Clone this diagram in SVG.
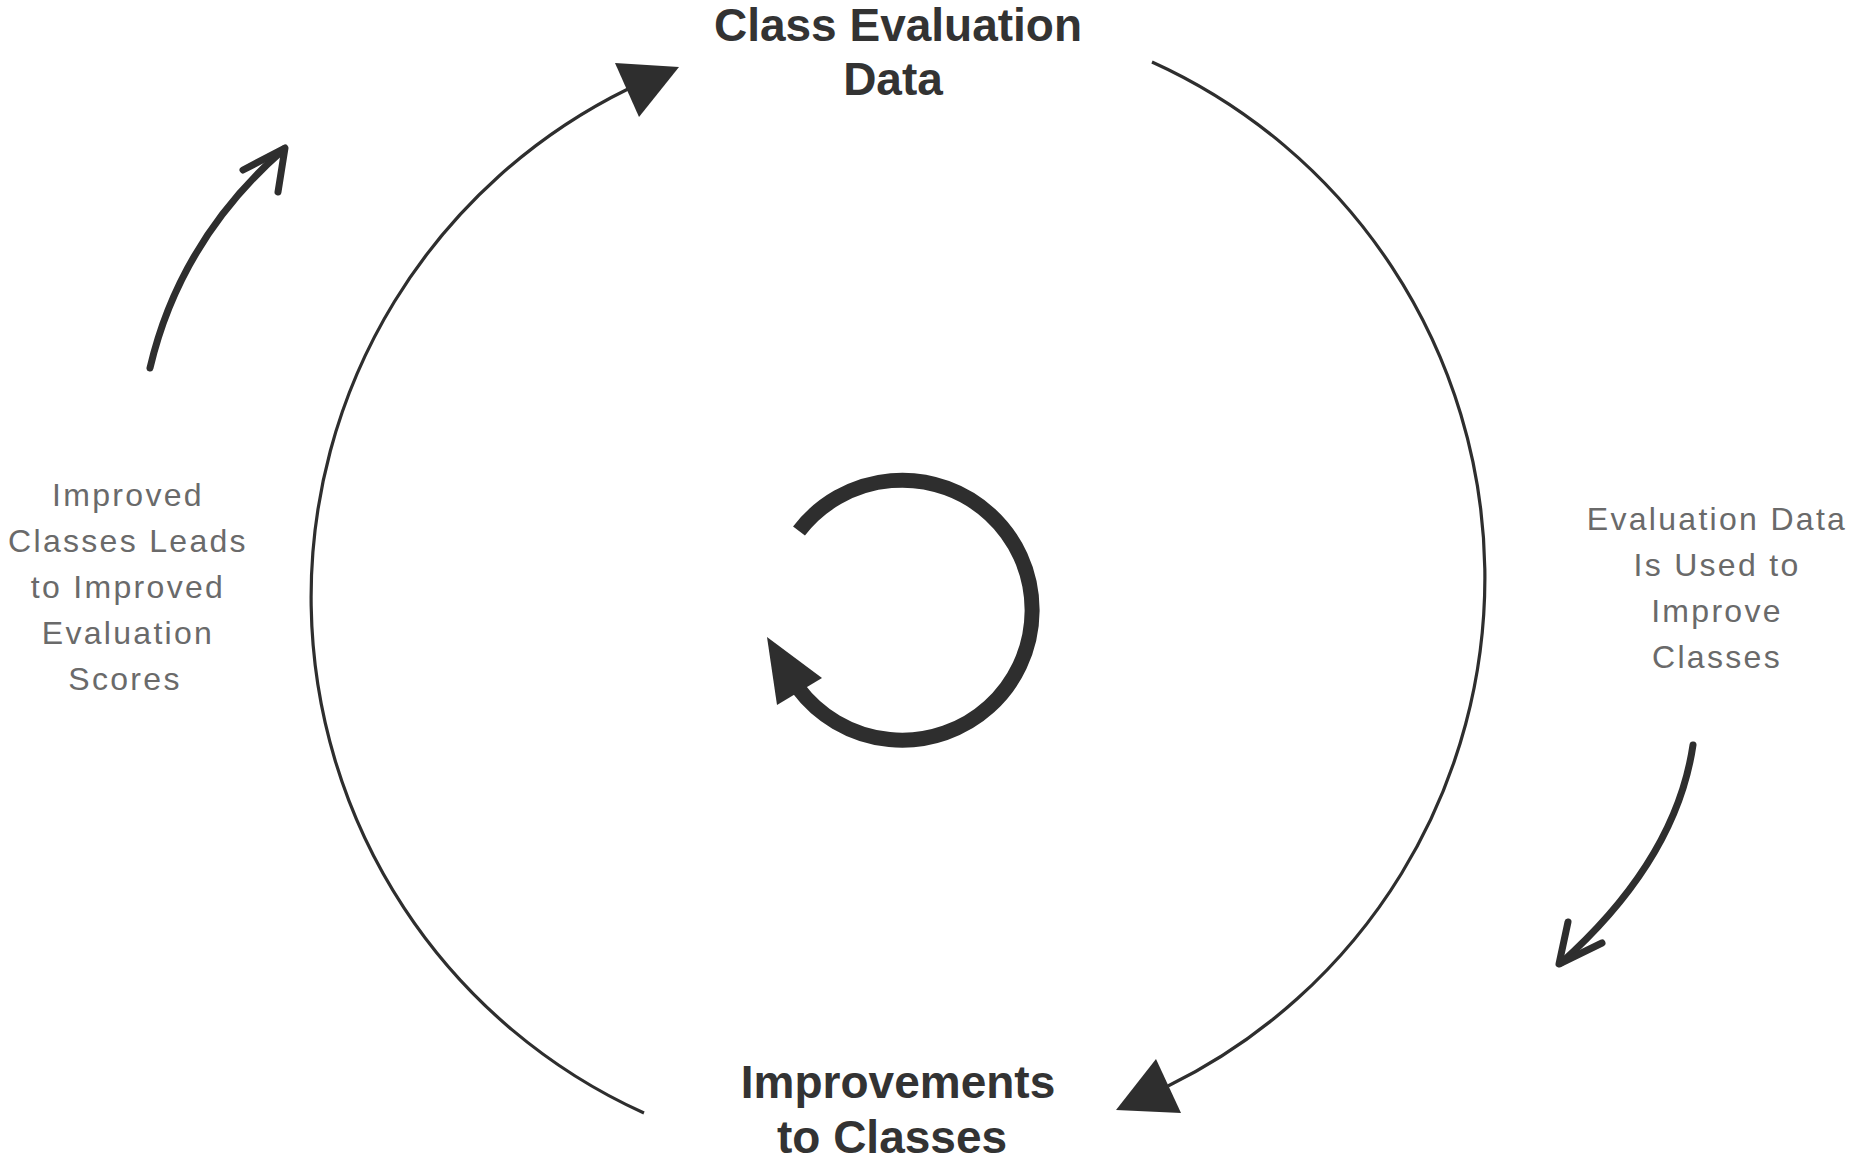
<svg xmlns="http://www.w3.org/2000/svg" width="1852" height="1157" viewBox="0 0 1852 1157">
<style>
.title{font-family:"Liberation Sans",Arial,sans-serif;font-weight:bold;font-size:46px;fill:#333333;text-anchor:middle}
.note{font-family:"Liberation Sans",Arial,sans-serif;font-size:32px;letter-spacing:2.3px;fill:#6a6a6a;text-anchor:middle}
.arc{fill:none;stroke:#2e2e2e;stroke-width:3.2}
.head{fill:#2e2e2e;stroke:none}
.hand{fill:none;stroke:#2e2e2e;stroke-width:7;stroke-linecap:round;stroke-linejoin:round}
.cycle{fill:none;stroke:#2e2e2e;stroke-width:15}
</style>
<rect width="1852" height="1157" fill="#ffffff"/>
<g id="connectors">
<path class="arc" d="M 644 1113 A 566 566 0 0 1 628 89"/>
<polygon class="head" points="615,63 679,67 639,117"/>
<path class="arc" d="M 1152 62 A 566 566 0 0 1 1168 1086"/>
<polygon class="head" points="1156,1059 1181,1113 1116,1110"/>
</g>
<g id="node-class-evaluation-data">
<text class="title" x="898" y="41">Class Evaluation</text>
<text class="title" x="893" y="95">Data</text>
</g>
<g id="node-improvements-to-classes">
<text class="title" x="898" y="1098">Improvements</text>
<text class="title" x="892" y="1153">to Classes</text>
</g>
<g id="cycle-icon">
<path class="cycle" d="M 799 531 A 130 130 0 1 1 798 688"/>
<polygon class="head" points="767,637 822,678 777,705"/>
</g>
<g id="label-left">
<path class="hand" d="M 150 368 Q 180 240 284 149"/>
<path class="hand" d="M 243 170 L 285 148 L 278 192"/>
<text class="note" x="128" y="506">Improved</text>
<text class="note" x="128" y="552">Classes Leads</text>
<text class="note" x="128" y="598">to Improved</text>
<text class="note" x="128" y="644">Evaluation</text>
<text class="note" x="125" y="690">Scores</text>
</g>
<g id="label-right">
<path class="hand" d="M 1693 745 Q 1676 860 1561 963"/>
<path class="hand" d="M 1568 922 L 1559 964 L 1602 943"/>
<text class="note" x="1717" y="530">Evaluation Data</text>
<text class="note" x="1717" y="576">Is Used to</text>
<text class="note" x="1717" y="622">Improve</text>
<text class="note" x="1717" y="668">Classes</text>
</g>
</svg>
